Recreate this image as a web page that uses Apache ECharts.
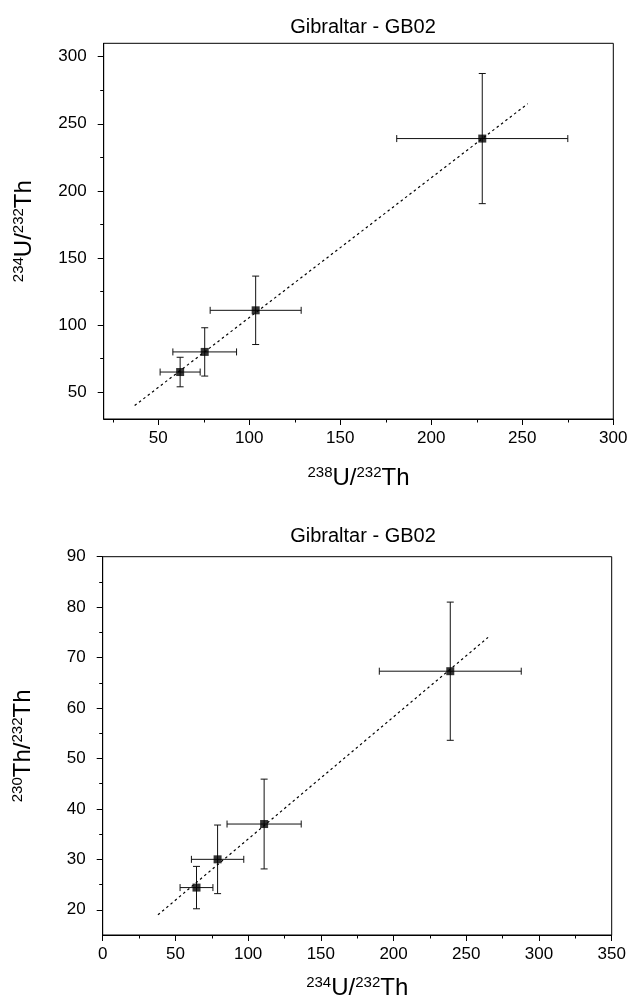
<!DOCTYPE html>
<html>
<head>
<meta charset="utf-8">
<script src="https://cdn.jsdelivr.net/npm/echarts@6/dist/echarts.min.js"></script>
<style>
html, body { margin: 0; padding: 0; background: #fff; }
#main { width: 632px; height: 1005px; }
</style>
</head>
<body>
<div id="main"></div>
<script>
// top panel: 238U/232Th vs 234U/232Th
const topX = [62, 75.5, 103.5, 228];
const topY = [65, 80, 111, 239];
const topXErr = [11, 17.5, 25, 47];
const topYErr = [11, 18, 25.5, 48.5];
const topFit = [[37, 40], [253, 265]];
const topXTicks = [50, 100, 150, 200, 250, 300];
const topXMinor = [25, 75, 125, 175, 225, 275];
const topYTicks = [50, 100, 150, 200, 250, 300];
const topYMinor = [75, 125, 175, 225, 275];

// bottom panel: 234U/232Th vs 230Th/232Th
const botX = [64.5, 79, 111, 239];
const botY = [24.4, 30, 37, 67.3];
const botXErr = [11.3, 18, 25.5, 48.8];
const botYErr = [4.2, 6.8, 8.9, 13.7];
const botFit = [[38, 19], [265, 74]];
const botXTicks = [0, 50, 100, 150, 200, 250, 300, 350];
const botXMinor = [25, 75, 125, 175, 225, 275, 325];
const botYTicks = [20, 30, 40, 50, 60, 70, 80, 90];
const botYMinor = [25, 35, 45, 55, 65, 75, 85];

const font = 'Liberation Sans, Arial, sans-serif';

function zip(xs, ys, ex, ey) {
    return xs.map((x, i) => [x, ys[i], ex[i], ey[i]]);
}

function errorBars(params, api) {
    const x = api.value(0), y = api.value(1), dx = api.value(2), dy = api.value(3);
    const c = api.coord([x, y]);
    const l = api.coord([x - dx, y])[0];
    const r = api.coord([x + dx, y])[0];
    const t = api.coord([x, y + dy])[1];
    const b = api.coord([x, y - dy])[1];
    const cap = 3.5;
    const style = { stroke: '#111', lineWidth: 1 };
    const seg = (x1, y1, x2, y2) => ({ type: 'line', shape: { x1, y1, x2, y2 }, style });
    return {
        type: 'group',
        children: [
            seg(l, c[1], r, c[1]),
            seg(l, c[1] - cap, l, c[1] + cap),
            seg(r, c[1] - cap, r, c[1] + cap),
            seg(c[0], t, c[0], b),
            seg(c[0] - cap, t, c[0] + cap, t),
            seg(c[0] - cap, b, c[0] + cap, b)
        ]
    };
}

const axisTitle = (a, b, c) => ({
    name: '{sup|' + a + '}{main|' + b + '/}{sup|232}{main|' + c + '}',
    nameLocation: 'middle',
    nameTextStyle: {
        rich: {
            main: { fontSize: 24, fontFamily: font, color: '#000' },
            sup: { fontSize: 15, fontFamily: font, color: '#000', padding: [0, 0, 11, 0] }
        }
    }
});

function majorAxis(grid, min, max, ticks, pos, title, gap) {
    return Object.assign({
        type: 'value', gridIndex: grid, min: min, max: max, position: pos,
        nameGap: gap,
        axisLine: { show: true, lineStyle: { color: '#000', width: 1 } },
        axisTick: { show: true, length: 6, customValues: ticks, lineStyle: { color: '#000' } },
        axisLabel: { customValues: ticks, color: '#000', fontSize: 17, fontFamily: font,
                     margin: pos === 'left' ? 17 : 11 },
        splitLine: { show: false }
    }, title);
}

function minorAxis(grid, min, max, ticks, pos) {
    return {
        type: 'value', gridIndex: grid, min: min, max: max, position: pos, offset: 0,
        axisLine: { show: false },
        axisTick: { show: true, length: 3.5, customValues: ticks, lineStyle: { color: '#000' } },
        axisLabel: { show: false },
        splitLine: { show: false }
    };
}

var chart = echarts.init(document.getElementById('main'));
const option = {
    animation: false,
    backgroundColor: '#fff',
    title: [
        { text: 'Gibraltar - GB02', left: 358, top: 12, textAlign: 'center',
          textStyle: { fontSize: 20, fontWeight: 'normal', fontFamily: font, color: '#000' } },
        { text: 'Gibraltar - GB02', left: 358, top: 521, textAlign: 'center',
          textStyle: { fontSize: 20, fontWeight: 'normal', fontFamily: font, color: '#000' } }
    ],
    grid: [
        { left: 103.7, top: 43.3, width: 509.6, height: 375.7, show: true,
          borderColor: '#000', borderWidth: 1 },
        { left: 102.7, top: 556.7, width: 509, height: 378.3, show: true,
          borderColor: '#000', borderWidth: 1 }
    ],
    xAxis: [
        majorAxis(0, 20, 300, topXTicks, 'bottom', axisTitle('238', 'U', 'Th'), 46),
        minorAxis(0, 20, 300, topXMinor, 'bottom'),
        majorAxis(1, 0, 350, botXTicks, 'bottom', axisTitle('234', 'U', 'Th'), 40),
        minorAxis(1, 0, 350, botXMinor, 'bottom')
    ],
    yAxis: [
        majorAxis(0, 30, 310, topYTicks, 'left', axisTitle('234', 'U', 'Th'), 66),
        minorAxis(0, 30, 310, topYMinor, 'left'),
        majorAxis(1, 15, 90, botYTicks, 'left', axisTitle('230', 'Th', 'Th'), 66),
        minorAxis(1, 15, 90, botYMinor, 'left')
    ],
    series: [
        { type: 'line', xAxisIndex: 0, yAxisIndex: 0, data: topFit, symbol: 'none',
          lineStyle: { color: '#000', width: 1.2, type: [2.5, 3] } },
        { type: 'custom', xAxisIndex: 0, yAxisIndex: 0, renderItem: errorBars,
          data: zip(topX, topY, topXErr, topYErr), z: 3 },
        { type: 'scatter', xAxisIndex: 0, yAxisIndex: 0, symbol: 'rect', symbolSize: 8,
          itemStyle: { color: '#000' }, data: topX.map((x, i) => [x, topY[i]]), z: 4 },

        { type: 'line', xAxisIndex: 2, yAxisIndex: 2, data: botFit, symbol: 'none',
          lineStyle: { color: '#000', width: 1.2, type: [2.5, 3] } },
        { type: 'custom', xAxisIndex: 2, yAxisIndex: 2, renderItem: errorBars,
          data: zip(botX, botY, botXErr, botYErr), z: 3 },
        { type: 'scatter', xAxisIndex: 2, yAxisIndex: 2, symbol: 'rect', symbolSize: 8,
          itemStyle: { color: '#000' }, data: botX.map((x, i) => [x, botY[i]]), z: 4 }
    ]
};
chart.setOption(option);
</script>
</body>
</html>
